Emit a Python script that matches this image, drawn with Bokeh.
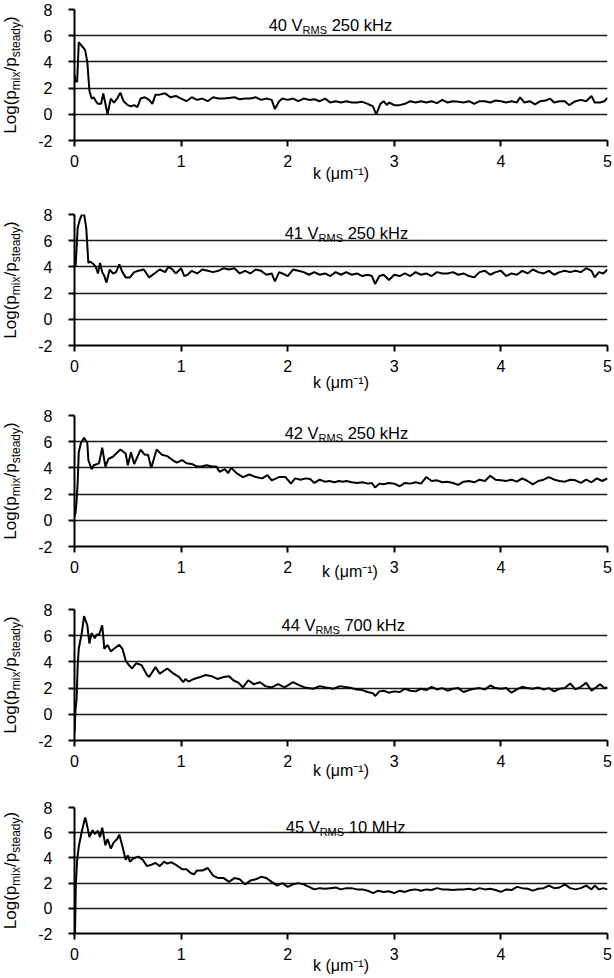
import math
from bokeh.plotting import figure
from bokeh.layouts import column, row
from bokeh.models import Label, Range1d, FixedTicker
from bokeh.embed import file_html
from bokeh.resources import INLINE

# ---------------- data ----------------
x_ticks = [0, 1, 2, 3, 4, 5]
y_ticks = [-2, 0, 2, 4, 6, 8]

volts = ["40", "41", "42", "44", "45"]
freqs = ["250 kHz", "250 kHz", "250 kHz", "700 kHz", "10 MHz"]

k1 = [0, 0.01, 0.025, 0.04, 0.06, 0.08, 0.1, 0.12, 0.14, 0.16,
      0.18, 0.2, 0.22, 0.25, 0.27, 0.29, 0.31, 0.34, 0.37, 0.4,
      0.43, 0.46, 0.5, 0.53, 0.56, 0.59, 0.62, 0.66, 0.7, 0.73,
      0.76, 0.8, 0.85, 0.9, 0.95, 1.0,
      1.05, 1.1, 1.15, 1.2, 1.25, 1.3, 1.35, 1.4, 1.45, 1.5,
      1.55, 1.6, 1.65, 1.7, 1.75, 1.8, 1.85, 1.88, 1.92, 1.95,
      2.0, 2.05, 2.1, 2.15, 2.2, 2.25, 2.3, 2.35, 2.4, 2.45,
      2.5, 2.55, 2.6, 2.65, 2.7, 2.75, 2.8, 2.83, 2.87, 2.9,
      2.93, 2.95, 3.0, 3.05, 3.1, 3.15, 3.2, 3.25, 3.3, 3.35,
      3.4, 3.45, 3.5, 3.55, 3.6, 3.65, 3.7, 3.75, 3.8, 3.85,
      3.9, 3.95, 4.0, 4.05, 4.1, 4.15, 4.18, 4.22, 4.27, 4.32,
      4.37, 4.42, 4.46, 4.5, 4.55, 4.6, 4.64, 4.7, 4.75, 4.8,
      4.85, 4.88, 4.93, 4.97, 5.0]
v1 = [3.0, 2.5, 2.5, 5.5, 5.3, 5.1, 4.9, 4.0, 1.8, 1.2,
      1.3, 1.0, 0.8, 0.8, 1.6, 0.8, 0.0, 1.2, 0.9, 1.2,
      1.65, 1.0, 0.7, 0.6, 0.7, 0.55, 1.2, 1.3, 1.1, 0.8,
      1.5, 1.5, 1.6, 1.3, 1.4, 1.2,
      1.0, 1.3, 1.1, 1.2, 1.0, 1.3, 1.2, 1.2, 1.25, 1.3,
      1.15, 1.2, 1.2, 1.3, 1.1, 1.2, 1.1, 0.4, 1.0, 1.2,
      1.1, 1.2, 1.0, 1.2, 1.1, 1.15, 1.0, 1.2, 0.9, 1.0,
      0.9, 1.0, 0.9, 0.9, 0.95, 0.8, 0.6, 0.0, 0.8, 1.0,
      0.7, 0.9, 0.7, 0.7, 0.8, 1.0, 0.9, 1.0, 0.9, 1.0,
      0.85, 1.1, 0.9, 1.0, 0.95, 0.9, 1.0, 0.8, 1.0, 1.0,
      0.9, 1.05, 1.0, 0.9, 1.0, 0.9, 1.3, 0.9, 1.0, 0.75,
      1.0, 1.05, 1.2, 0.9, 1.0, 1.0, 0.7, 1.0, 1.1, 1.0,
      1.4, 0.9, 0.9, 1.0, 1.25]

k2 = [0, 0.01, 0.03, 0.05, 0.07, 0.09, 0.11, 0.13, 0.15, 0.18,
      0.2, 0.22, 0.24, 0.26, 0.28, 0.3, 0.33, 0.36, 0.39, 0.42,
      0.45, 0.48, 0.52, 0.56, 0.6, 0.65, 0.7, 0.75, 0.8, 0.85,
      0.88, 0.92, 0.95, 1.0, 1.03, 1.06, 1.1,
      1.15, 1.2, 1.25, 1.3, 1.35, 1.4, 1.45, 1.5, 1.55, 1.6,
      1.65, 1.7, 1.75, 1.8, 1.85, 1.88, 1.92, 1.95, 2.0, 2.05,
      2.1, 2.15, 2.2, 2.25, 2.3, 2.35, 2.4, 2.45, 2.5, 2.55,
      2.6, 2.65, 2.7, 2.75, 2.79, 2.82, 2.86, 2.9, 2.95, 3.0,
      3.05, 3.1, 3.15, 3.2, 3.25, 3.3, 3.35, 3.4, 3.45, 3.5,
      3.55, 3.6, 3.65, 3.7, 3.75, 3.8, 3.85, 3.9, 3.95, 4.0,
      4.05, 4.1, 4.15, 4.2, 4.25, 4.3, 4.35, 4.4, 4.45, 4.5,
      4.55, 4.6, 4.65, 4.7, 4.75, 4.8, 4.85, 4.88, 4.92, 4.96,
      5.0]
v2 = [4.5, 4.0, 7.0, 7.6, 8.0, 8.0, 7.0, 4.3, 4.4, 4.2,
      4.0, 3.5, 4.3, 3.6, 3.3, 2.8, 3.8, 3.5, 3.6, 4.2,
      3.6, 3.2, 3.2, 3.6, 3.7, 3.8, 3.2, 3.5, 3.8, 3.6,
      4.0, 3.8, 3.5, 3.9, 3.3, 3.4, 3.7,
      3.5, 3.8, 3.7, 3.6, 3.7, 3.9, 3.8, 3.9, 3.5, 3.7,
      3.5, 3.8, 3.7, 3.4, 3.5, 2.9, 3.6, 3.5, 3.3, 3.8,
      3.7, 3.6, 3.4, 3.6, 3.4, 3.5, 3.3, 3.6, 3.4, 3.6,
      3.4, 3.5, 3.3, 3.4, 3.3, 2.7, 3.3, 3.4, 3.0, 3.4,
      3.3, 3.5, 3.3, 3.6, 3.4, 3.5, 3.3, 3.6, 3.5, 3.5,
      3.6, 3.4, 3.5, 3.3, 3.2, 3.6, 3.7, 3.4, 3.6, 3.7,
      3.3, 3.5, 3.4, 3.7, 3.5, 3.8, 3.6, 3.5, 3.7, 3.4,
      3.6, 3.7, 3.6, 3.7, 3.6, 3.9, 3.7, 3.2, 3.6, 3.5,
      3.8]

k3 = [0, 0.01, 0.02, 0.03, 0.04, 0.06, 0.09, 0.12, 0.13, 0.16,
      0.18, 0.23, 0.26, 0.29, 0.32, 0.36, 0.43, 0.48, 0.5, 0.53,
      0.56, 0.62, 0.66, 0.69, 0.72, 0.77, 0.82, 0.87, 0.92, 0.96,
      1.01, 1.05, 1.1, 1.15, 1.19, 1.24, 1.29, 1.33, 1.36, 1.41,
      1.44, 1.47, 1.52, 1.58, 1.64, 1.7, 1.76, 1.81, 1.85, 1.92,
      1.98, 2.03, 2.07, 2.12, 2.17, 2.21, 2.25, 2.3, 2.35, 2.39,
      2.44, 2.48, 2.52, 2.55, 2.6, 2.65, 2.7, 2.75, 2.79, 2.82,
      2.86, 2.9, 2.95, 3.0, 3.05, 3.1, 3.15, 3.2, 3.25, 3.3,
      3.35, 3.4, 3.45, 3.5, 3.55, 3.6, 3.65, 3.7, 3.75, 3.8,
      3.85, 3.9, 3.95, 4.0, 4.05, 4.1, 4.15, 4.2, 4.25, 4.3,
      4.35, 4.4, 4.45, 4.5, 4.55, 4.6, 4.65, 4.7, 4.75, 4.8,
      4.85, 4.9, 4.95, 5.0]
v3 = [0.25, 0.6, 1.5, 2.9, 5.2, 5.9, 6.3, 5.9, 4.6, 3.9,
      4.2, 4.35, 5.55, 4.1, 4.7, 4.85, 5.4, 5.1, 4.2, 5.2,
      4.3, 5.4, 5.0, 5.0, 4.0, 5.4, 5.0, 4.9, 4.6, 4.4,
      4.6, 4.35, 4.3, 4.1, 4.1, 4.2, 4.1, 4.1, 3.7, 3.9,
      3.6, 4.0, 3.6, 3.3, 3.5, 3.3, 3.2, 3.45, 3.05, 3.3,
      3.3, 2.8, 3.2, 3.1, 3.2, 3.15, 2.85, 3.1, 2.95, 3.0,
      2.9, 3.0, 2.95, 3.0, 2.9, 2.85, 2.9, 2.8, 2.85, 2.5,
      2.8, 2.75, 2.85, 2.8, 2.6, 2.85, 2.8, 2.9, 2.8, 3.3,
      3.0, 3.05, 2.9, 2.95, 2.85, 2.7, 2.95, 3.0, 2.9, 3.1,
      3.0, 3.4, 3.1, 3.05, 3.0, 3.1, 2.95, 3.2, 3.0, 2.75,
      3.0, 3.1, 3.3, 3.1, 3.0, 2.95, 3.1, 3.05, 2.85, 3.1,
      2.9, 3.2, 3.0, 3.2]

k4 = [0, 0.01, 0.02, 0.03, 0.04, 0.07, 0.09, 0.12, 0.14, 0.16,
      0.19, 0.21, 0.23, 0.26, 0.28, 0.31, 0.34, 0.37, 0.42, 0.45,
      0.48, 0.51, 0.54, 0.58, 0.63, 0.68, 0.7, 0.76, 0.8, 0.87,
      0.93, 0.98, 1.02, 1.04, 1.07, 1.12, 1.18, 1.23, 1.29, 1.34,
      1.4, 1.45, 1.49, 1.54, 1.58, 1.63, 1.68, 1.74, 1.79, 1.85,
      1.91, 1.97, 2.05, 2.1, 2.16, 2.24, 2.3, 2.36, 2.43, 2.49,
      2.57,
      2.6, 2.65, 2.7, 2.75, 2.8, 2.82, 2.86, 2.9, 2.95, 3.0,
      3.05, 3.1, 3.15, 3.2, 3.25, 3.3, 3.35, 3.4, 3.45, 3.5,
      3.55, 3.6, 3.65, 3.7, 3.75, 3.8, 3.85, 3.9, 3.95, 4.0,
      4.05, 4.1, 4.15, 4.2, 4.25, 4.3, 4.35, 4.4, 4.45, 4.5,
      4.55, 4.6, 4.65, 4.7, 4.75, 4.8, 4.85, 4.9, 4.93, 4.97,
      5.0]
v4 = [-1.4, 0.4, 1.2, 3.75, 5.0, 6.3, 7.5, 6.8, 5.4, 6.2,
      5.8, 6.1, 6.05, 6.8, 5.0, 5.3, 4.8, 5.0, 5.3, 5.0,
      4.1, 3.75, 3.5, 3.9, 3.75, 3.0, 2.85, 3.6, 3.1, 3.5,
      3.1, 2.85, 2.45, 2.7, 2.5, 2.7, 2.85, 3.0, 2.9, 2.7,
      2.85, 2.9, 2.6, 2.4, 2.05, 2.6, 2.3, 2.45, 2.15, 2.05,
      2.3, 2.05, 2.45, 2.25, 2.05, 1.95, 2.15, 2.05, 1.95, 2.15,
      2.05,
      2.0, 1.9, 1.85, 1.7, 1.6, 1.4, 1.75, 1.8, 1.65, 1.75,
      1.7, 1.95, 1.8, 1.75, 1.95, 1.85, 2.1, 1.9, 2.0, 1.8,
      1.95, 2.0, 1.7, 1.85, 1.95, 2.0, 1.9, 2.2, 2.0, 1.95,
      2.0, 1.65, 1.9, 2.1, 2.0, 1.95, 2.05, 1.9, 2.0, 1.75,
      1.95, 2.0, 2.35, 1.9, 2.1, 2.4, 1.8, 2.1, 2.3, 2.0,
      2.05]

k5 = [0, 0.005, 0.012, 0.025, 0.04, 0.07, 0.1, 0.11, 0.14, 0.17,
      0.19, 0.22, 0.24, 0.26, 0.29, 0.31, 0.34, 0.37, 0.4, 0.42,
      0.45, 0.48, 0.5, 0.52, 0.55, 0.6, 0.64, 0.68, 0.72, 0.76,
      0.8, 0.84, 0.87, 0.91, 0.96, 1.01, 1.05, 1.09, 1.12,
      1.15, 1.2, 1.25, 1.3, 1.35, 1.4, 1.45, 1.5, 1.55, 1.6,
      1.65, 1.7, 1.75, 1.8, 1.85, 1.9, 1.95, 2.0, 2.05, 2.1,
      2.15, 2.2, 2.25, 2.3, 2.35, 2.4, 2.45, 2.5, 2.55, 2.6,
      2.65, 2.7, 2.75, 2.8, 2.85, 2.9, 2.95, 3.0, 3.05, 3.1,
      3.15, 3.2, 3.25, 3.3, 3.35, 3.4, 3.45, 3.5, 3.55, 3.6,
      3.65, 3.7, 3.75, 3.8, 3.85, 3.9, 3.95, 4.0, 4.05, 4.1,
      4.15, 4.2, 4.25, 4.3, 4.35, 4.4, 4.45, 4.5, 4.55, 4.6,
      4.65, 4.7, 4.75, 4.8, 4.85,
      4.88, 4.92, 4.96, 5.0]
v5 = [0.8, -2.0, 1.8, 3.85, 4.9, 6.15, 7.2, 6.9, 5.65, 6.2,
      5.9, 6.15, 5.65, 6.4, 5.0, 5.5, 4.75, 5.25, 5.5, 5.85,
      4.9, 3.85, 4.2, 3.7, 3.95, 4.1, 3.85, 3.35, 3.45, 3.6,
      3.35, 3.7, 3.55, 3.65, 3.4, 3.1, 3.1, 2.8, 2.7,
      3.0, 3.0, 3.2, 2.6, 2.4, 2.4, 2.1, 2.4, 2.3, 1.9,
      2.2, 2.3, 2.5, 2.4, 2.1, 1.8, 2.0, 1.7, 1.9, 2.0,
      1.9, 1.7, 1.5, 1.6, 1.55, 1.6, 1.65, 1.5, 1.6, 1.6,
      1.5, 1.5, 1.4, 1.2, 1.4, 1.3, 1.35, 1.2, 1.4, 1.3,
      1.45, 1.5, 1.4, 1.5, 1.45, 1.6, 1.5, 1.5, 1.45, 1.5,
      1.5, 1.55, 1.45, 1.6, 1.5, 1.55, 1.45, 1.3, 1.5, 1.45,
      1.7, 1.6, 1.55, 1.4, 1.55, 1.6, 1.8, 1.6, 1.65, 1.9,
      1.6, 1.5, 1.6, 1.8, 1.5,
      1.8, 1.5, 1.6, 1.5]

series_k = [k1, k2, k3, k4, k5]
series_v = [v1, v2, v3, v4, v5]

# ---------------- layout / style ----------------
FONT = "Liberation Sans"
W = {'L': .556, 'o': .556, 'g': .556, '(': .333, 'p': .556, '/': .278, ')': .333,
     'm': .833, 'i': .222, 'x': .5, 's': .5, 't': .278, 'e': .556, 'a': .556,
     'd': .556, 'y': .5, 'R': .722, 'M': .833, 'S': .667, ' ': .278}


def tw(s, size):
    return sum(W.get(c, 0.556) for c in s) * size


LABW = 30                 # strip holding the rotated y label
MAINW = 582
heights = [205, 201, 194, 199, 177]
tops = [9, 9, 9, 9, 8]
frames = [131, 131, 131, 131, 129]
title_x = [2.14, 2.29, 2.29, 2.26, 2.30]
title_dy = [15.7, 18.0, 17.0, 15.5, 19.5]
xlab_standoff = [-5, -1, -13, -8, -6]
xlab_text = ["k (μm⁻¹)", "k (μm⁻¹)", "\u00a0\u00a0\u00a0\u00a0k (μm⁻¹)",
             "k (μm⁻¹)", "k (μm⁻¹)"]


def lab(p, x, y, text, size, dx=0.0, dy=0.0, align="left", angle=0.0,
        baseline="alphabetic"):
    p.add_layout(Label(x=x, y=y, text=text, x_offset=dx, y_offset=dy,
                       text_align=align, text_baseline=baseline, angle=angle,
                       text_font=FONT, text_font_size=f"{size}px",
                       text_color="black"))


rows = []
for i in range(5):
    H = heights[i]
    bottom = H - tops[i] - frames[i]
    p = figure(width=MAINW, height=H, x_range=Range1d(0, 5),
               y_range=Range1d(-2, 8), output_backend="svg",
               toolbar_location=None, min_border_left=74 - LABW,
               min_border_right=5, min_border_top=tops[i],
               min_border_bottom=bottom)
    p.outline_line_color = None
    p.xgrid.visible = False
    p.ygrid.ticker = FixedTicker(ticks=y_ticks)
    p.ygrid.grid_line_color = "#1a1a1a"
    p.ygrid.grid_line_width = 1.6

    p.xaxis.ticker = FixedTicker(ticks=x_ticks)
    p.yaxis.ticker = FixedTicker(ticks=y_ticks)
    p.yaxis.major_label_overrides = {t: str(t) for t in y_ticks}
    for ax in (p.xaxis[0], p.yaxis[0]):
        ax.axis_line_color = "black"
        ax.axis_line_width = 2
        ax.major_tick_line_color = "black"
        ax.major_tick_line_width = 2
        ax.major_tick_in = 0
        ax.major_tick_out = 6
        ax.minor_tick_line_color = None
        ax.major_label_text_font = FONT
        ax.major_label_text_font_size = "16px"
        ax.major_label_text_color = "black"
    p.xaxis.major_label_standoff = 8
    p.yaxis.major_label_standoff = 16

    p.xaxis.axis_label = xlab_text[i]
    p.xaxis.axis_label_text_font = FONT
    p.xaxis.axis_label_text_font_size = "16px"
    p.xaxis.axis_label_text_font_style = "normal"
    p.xaxis.axis_label_text_color = "black"
    p.xaxis.axis_label_standoff = xlab_standoff[i]

    p.line(series_k[i], series_v[i], line_color="black", line_width=2)

    # panel title: "40 V_RMS 250 kHz"
    tx, ty = title_x[i], -title_dy[i]
    lab(p, tx, 8, volts[i] + " V", 16.5, dy=ty, align="right")
    lab(p, tx, 8, "RMS", 11, dy=ty - 5)
    lab(p, tx, 8, freqs[i], 16.5, dx=tw("RMS", 11) + tw(" ", 16.5), dy=ty)

    # strip figure carrying the rotated y label Log(p_mix/p_steady);
    # its frame is aligned by the row with the panel's frame, so the label
    # is centred on the panel's y = 3 line
    q = figure(width=LABW, height=H, x_range=Range1d(0, LABW),
               y_range=Range1d(-2, 8), output_backend="svg",
               toolbar_location=None, x_axis_location=None,
               y_axis_location=None, min_border_left=0, min_border_right=0,
               min_border_top=tops[i], min_border_bottom=bottom)
    q.outline_line_color = None
    q.grid.visible = False
    pieces = [("Log(p", 17, 10.0), ("mix", 12, 15.5), ("/p", 17, 10.0),
              ("steady", 12, 15.5), (")", 17, 10.0)]
    total = sum(tw(t, s) for t, s, _ in pieces)
    u = -total / 2
    for t, s, xm in pieces:
        w = tw(t, s)
        lab(q, xm, 3, t, s, dy=u + w / 2, align="center", baseline="middle",
            angle=math.pi / 2)
        u += w

    rows.append(row(q, p, spacing=0))

layout = column(*rows, spacing=0)
open("out.html", "w").write(file_html(layout, INLINE))
